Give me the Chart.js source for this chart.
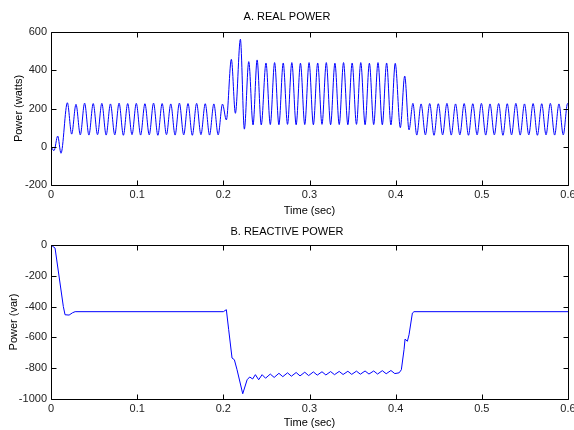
<!DOCTYPE html>
<html>
<head>
<meta charset="utf-8">
<title>Real and reactive power</title>
<script src="https://cdn.jsdelivr.net/npm/chart.js@4/dist/chart.umd.min.js"></script>
<style>
  html, body { margin: 0; padding: 0; background: #fff; }
  canvas { display: block; }
</style>
</head>
<body>
<canvas id="realChart" width="574" height="218"></canvas>
<canvas id="reactiveChart" width="574" height="212"></canvas>
<script>
// axis ticks
const timeTicks = [0, 0.1, 0.2, 0.3, 0.4, 0.5, 0.6];
const timeTickLabels = ["0", "0.1", "0.2", "0.3", "0.4", "0.5", "0.6"];
const realTicks = [-200, 0, 200, 400, 600];
const realTickLabels = ["-200", "0", "200", "400", "600"];
const reactiveTicks = [-1000, -800, -600, -400, -200, 0];
const reactiveTickLabels = ["-1000", "-800", "-600", "-400", "-200", "0"];

// A. real power - peaks and troughs (sec / watts)
const realTime = [
  0, 0.0035, 0.0078, 0.0116,
  0.019, 0.024, 0.029, 0.034, 0.039, 0.044, 0.049, 0.054, 0.059, 0.064,
  0.069, 0.074, 0.079, 0.084, 0.089, 0.094, 0.099, 0.104, 0.109, 0.114,
  0.119, 0.124, 0.129, 0.134, 0.139, 0.144, 0.149, 0.154, 0.159, 0.164,
  0.169, 0.174, 0.179, 0.184, 0.189, 0.194, 0.199,
  0.2035, 0.2093, 0.214, 0.2198, 0.2244, 0.2295, 0.2345, 0.2392, 0.244,
  0.2495, 0.2545, 0.2595, 0.2645, 0.2695, 0.2745, 0.2795, 0.2845, 0.2895, 0.2945,
  0.2995, 0.3045, 0.3095, 0.3145, 0.3195, 0.3245, 0.3295, 0.3345, 0.3395, 0.3445,
  0.3495, 0.3545, 0.3595, 0.3645, 0.3695, 0.3745, 0.3795, 0.3845, 0.3895, 0.3945,
  0.3995, 0.4054, 0.4105, 0.4155, 0.42,
  0.4245, 0.4295, 0.4345, 0.4395, 0.4445, 0.4495, 0.4545, 0.4595, 0.4645, 0.4695,
  0.4745, 0.4795, 0.4845, 0.4895, 0.4945, 0.4995, 0.5045, 0.5095, 0.5145, 0.5195,
  0.5245, 0.5295, 0.5345, 0.5395, 0.5445, 0.5495, 0.5545, 0.5595, 0.5645, 0.5695,
  0.5745, 0.5795, 0.5845, 0.5895, 0.5945, 0.5995, 0.6
];
const realWatts = [
  0, -20, 56, -34,
  230, 66, 222, 62, 228, 61, 226, 63, 227, 61,
  224, 62, 228, 60, 226, 63, 227, 61, 225, 62,
  228, 60, 226, 63, 224, 61, 228, 62, 226, 60,
  227, 63, 225, 61, 224, 62, 223,
  140, 457, 175, 562, 92, 445, 114, 454, 114,
  438, 116, 440, 115, 438, 117, 440, 115, 437, 116,
  440, 115, 438, 117, 440, 115, 437, 116, 440, 115,
  438, 117, 440, 115, 437, 116, 440, 115, 438, 114,
  436, 100, 370, 88, 227,
  61, 224, 62, 226, 60, 225, 62, 227, 61, 224,
  62, 226, 60, 225, 62, 227, 61, 224, 62, 226,
  60, 225, 62, 227, 61, 224, 62, 226, 60, 225,
  62, 227, 61, 224, 62, 226, 225
];

// B. reactive power - corners of the trace (sec / var)
const reactiveTime = [
  0, 0.0047, 0.0143, 0.0163, 0.021, 0.025, 0.028, 0.2,
  0.2035, 0.2062, 0.2101, 0.2128, 0.2159, 0.2225, 0.2276, 0.2306, 0.234, 0.2372,
  0.241, 0.245, 0.249, 0.2545, 0.259, 0.2645, 0.269, 0.2745, 0.279, 0.2845,
  0.289, 0.2945, 0.299, 0.3045, 0.309, 0.3145, 0.319, 0.3245, 0.329, 0.3345,
  0.339, 0.3445, 0.349, 0.3545, 0.359, 0.3645, 0.369, 0.3745, 0.379, 0.3845,
  0.389, 0.3945, 0.399, 0.404, 0.4066, 0.4097, 0.4109, 0.4136, 0.4155, 0.4194,
  0.4213, 0.6
];
const reactiveVar = [
  0, -20, -399, -453, -455, -440, -433, -433,
  -420, -550, -734, -745, -810, -966, -875, -857, -870, -842,
  -875, -842, -865, -838, -860, -833, -855, -830, -852, -828,
  -850, -826, -848, -824, -845, -823, -844, -822, -842, -821,
  -841, -820, -840, -819, -839, -818, -838, -818, -838, -816,
  -836, -815, -835, -830, -810, -680, -611, -625, -583, -442,
  -433, -433
];

const narrowFont = "'Liberation Sans Narrow', 'Liberation Sans', Arial, sans-serif";
const plainFont = "'Liberation Sans', Arial, sans-serif";

// matlab style box with inward ticks on all four sides
const boxPlugin = {
  id: "box",
  afterDraw(chart) {
    const { ctx, chartArea: a, scales } = chart;
    const len = 5;
    ctx.save();
    ctx.strokeStyle = "#000";
    ctx.lineWidth = 1;
    ctx.beginPath();
    const l = Math.round(a.left) + 0.5, r = Math.round(a.right) + 0.5;
    const t = Math.round(a.top) + 0.5, b = Math.round(a.bottom) + 0.5;
    ctx.rect(l, t, r - l, b - t);
    scales.x.ticks.forEach(tk => {
      const px = Math.round(scales.x.getPixelForValue(tk.value)) + 0.5;
      ctx.moveTo(px, b); ctx.lineTo(px, b - len);
      ctx.moveTo(px, t); ctx.lineTo(px, t + len);
    });
    scales.y.ticks.forEach(tk => {
      const py = Math.round(scales.y.getPixelForValue(tk.value)) + 0.5;
      ctx.moveTo(l, py); ctx.lineTo(l + len, py);
      ctx.moveTo(r, py); ctx.lineTo(r - len, py);
    });
    ctx.stroke();
    ctx.restore();
  }
};

function buildChart(id, opts) {
  const ctx = document.getElementById(id).getContext("2d");
  return new Chart(ctx, {
    type: "line",
    data: {
      datasets: [{
        data: opts.xs.map((x, i) => ({ x: x, y: opts.ys[i] })),
        borderColor: "#0000ff",
        borderWidth: 1,
        pointRadius: 0,
        fill: false,
        tension: 0,
        cubicInterpolationMode: opts.smooth ? "monotone" : "default"
      }]
    },
    options: {
      responsive: false,
      animation: false,
      events: [],
      layout: { padding: 0 },
      plugins: {
        legend: { display: false },
        tooltip: { enabled: false },
        title: {
          display: true,
          text: opts.title,
          color: "#000",
          font: { family: narrowFont, size: 11, weight: "normal" },
          padding: opts.titlePad
        }
      },
      scales: {
        x: {
          type: "linear",
          min: 0,
          max: 0.6,
          grid: { display: false, drawTicks: false },
          border: { display: false },
          afterBuildTicks: s => { s.ticks = timeTicks.map(v => ({ value: v })); },
          afterFit: s => {
            s.height = opts.xHeight;
            s.paddingLeft = 0;
            s.paddingRight = 6;
          },
          ticks: {
            autoSkip: false,
            maxRotation: 0,
            padding: 3.4,
            color: "#222",
            font: { family: narrowFont, size: 11 },
            callback: (v, i) => timeTickLabels[i]
          },
          title: {
            display: true,
            text: "Time (sec)",
            color: "#000",
            font: { family: narrowFont, size: 11 },
            padding: { top: 0, bottom: opts.xTitlePad }
          }
        },
        y: {
          type: "linear",
          min: opts.yTicks[0],
          max: opts.yTicks[opts.yTicks.length - 1],
          grid: { display: false, drawTicks: false },
          border: { display: false },
          afterBuildTicks: s => { s.ticks = opts.yTicks.map(v => ({ value: v })); },
          afterFit: s => { s.width = 51; },
          ticks: {
            autoSkip: false,
            padding: 4,
            color: "#222",
            font: { family: narrowFont, size: 11 },
            callback: (v, i) => opts.yLabels[i]
          },
          title: {
            display: true,
            text: opts.yTitle,
            color: "#000",
            font: { family: plainFont, size: 11 },
            padding: { top: opts.yTitlePad, bottom: 0 }
          }
        }
      }
    },
    plugins: [boxPlugin]
  });
}

function initializeCharts() {
  buildChart("realChart", {
    title: "A. REAL POWER",
    yTitle: "Power (watts)",
    xs: realTime,
    ys: realWatts,
    smooth: true,
    yTicks: realTicks,
    yLabels: realTickLabels,
    titlePad: { top: 10.4, bottom: 8.4 },
    xHeight: 33,
    xTitlePad: 0.4,
    yTitlePad: 12.4
  });
  buildChart("reactiveChart", {
    title: "B. REACTIVE POWER",
    yTitle: "Power (var)",
    xs: reactiveTime,
    ys: reactiveVar,
    smooth: false,
    yTicks: reactiveTicks,
    yLabels: reactiveTickLabels,
    titlePad: { top: 7.1, bottom: 6.7 },
    xHeight: 31,
    xTitlePad: 0,
    yTitlePad: 7
  });
}

if (document.readyState === "loading") {
  document.addEventListener("DOMContentLoaded", initializeCharts);
} else {
  initializeCharts();
}
</script>
</body>
</html>
